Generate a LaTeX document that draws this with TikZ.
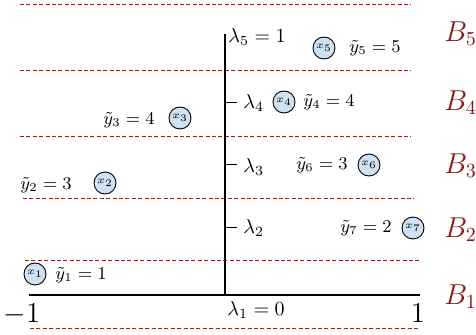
\documentclass[tikz,border=0pt]{standalone}
\usepackage{amsmath}
\definecolor{bred}{RGB}{135,22,22}
\definecolor{cfill}{RGB}{207,226,243}
\begin{document}
\begin{tikzpicture}[x=0.5pt,y=-0.5pt,
  band/.style={draw=red!85!black, line width=0.4pt, dash pattern=on 2pt off 1.2pt},
  axisline/.style={draw=black, line width=0.7pt},
  tickline/.style={draw=black, line width=0.5pt},
  pt/.style={circle, draw=black, line width=0.45pt, fill=cfill, minimum size=11pt, inner sep=0pt, font=\tiny},
  ylab/.style={font=\small, inner sep=0pt},
  lab/.style={inner sep=0pt, anchor=west},
  blab/.style={inner sep=0pt, anchor=west, text=bred, font=\Large}]
\useasboundingbox (0,0) rectangle (476,335);
% bands
\coordinate (d1a) at (20,4);   \coordinate (d1b) at (411,4);
\coordinate (d2a) at (20,70);  \coordinate (d2b) at (411,70);
\coordinate (d3a) at (20,136); \coordinate (d3b) at (411,136);
\coordinate (d4a) at (23,198); \coordinate (d4b) at (414,198);
\coordinate (d5a) at (25,260); \coordinate (d5b) at (421,260);
\coordinate (d6a) at (30,328); \coordinate (d6b) at (419,328);
\foreach \i in {1,...,6} \draw[band] (d\i a) -- (d\i b);
% axes
\coordinate (vtop) at (225,34); \coordinate (vbot) at (225,296);
\coordinate (hl) at (29,295);   \coordinate (hr) at (420,295);
\draw[axisline] (vtop) -- (vbot);
\draw[axisline] (hl) -- (hr);
% ticks
\coordinate (t4a) at (225,103); \coordinate (t4b) at (237,103);
\coordinate (t3a) at (225,165); \coordinate (t3b) at (237,165);
\coordinate (t2a) at (225,228); \coordinate (t2b) at (237,228);
\draw[tickline] (t4a) -- (t4b);
\draw[tickline] (t3a) -- (t3b);
\draw[tickline] (t2a) -- (t2b);
% lambda labels
\node[lab] (l5) at (228,37) {$\lambda_5 = 1$};
\node[lab] (l4) at (243,103) {$\lambda_4$};
\node[lab] (l3) at (243,167) {$\lambda_3$};
\node[lab] (l2) at (243,228) {$\lambda_2$};
\node[lab] (l1) at (227,310) {$\lambda_1 = 0$};
\node[inner sep=0pt, font=\Large] (m1) at (22,314) {$-1$};
\node[inner sep=0pt, font=\Large] (p1) at (418,313) {$1$};
% B labels
\node[blab] (b5) at (444,34) {$B_5$};
\node[blab] (b4) at (444,103) {$B_4$};
\node[blab] (b3) at (444,166) {$B_3$};
\node[blab] (b2) at (444,230) {$B_2$};
\node[blab] (b1) at (444,297) {$B_1$};
% points
\node[pt] (x5) at (324,48) {$x_5$};
\node[pt] (x4) at (284,102) {$x_4$};
\node[pt] (x3) at (180,118) {$x_3$};
\node[pt] (x6) at (369,165) {$x_6$};
\node[pt] (x2) at (105,183) {$x_2$};
\node[pt] (x7) at (413,228) {$x_7$};
\node[pt] (x1) at (35,274) {$x_1$};
% y labels
\node[ylab] (y5) at (375,48) {$\tilde{y}_5 = 5$};
\node[ylab] (y4) at (329,102) {$\tilde{y}_4 = 4$};
\node[ylab] (y3) at (129,120) {$\tilde{y}_3 = 4$};
\node[ylab] (y6) at (322,165) {$\tilde{y}_6 = 3$};
\node[ylab] (y2) at (46,185) {$\tilde{y}_2 = 3$};
\node[ylab] (y7) at (366,228) {$\tilde{y}_7 = 2$};
\node[ylab] (y1) at (81,275) {$\tilde{y}_1 = 1$};
\end{tikzpicture}
\end{document}
